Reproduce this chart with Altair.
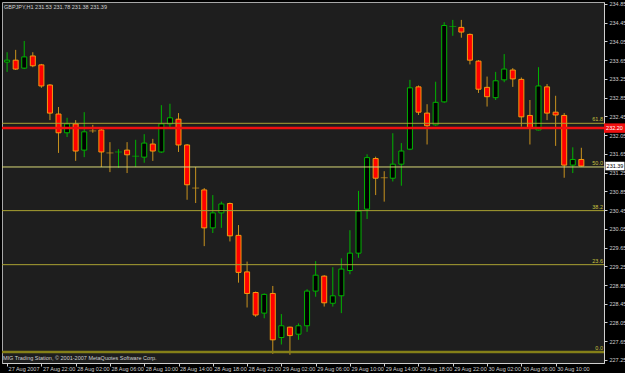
import altair as alt
import pandas as pd

symbol_title = "GBPJPY,H1 231.53 231.78 231.38 231.39"
copyright_text = "MIG Trading Station, \u00a9 2001-2007 MetaQuotes Software Corp."

opens = [
    233.61, 233.65, 233.48, 233.74, 233.55, 233.12, 232.50, 232.10, 232.29, 231.73,
    232.14, 232.16, 231.67, 231.68, 231.73, 231.59, 231.58, 231.86, 231.69, 232.29,
    232.39, 231.84, 230.92, 230.88, 230.07, 230.39, 230.59, 229.91, 229.13, 228.69,
    228.25, 228.67, 227.73, 227.95, 227.80, 227.98, 228.72, 229.04, 228.46, 228.62,
    229.16, 229.53, 230.47, 231.55, 231.14, 231.13, 231.43, 231.75, 233.08, 232.52,
    232.27, 232.76, 234.36, 234.35, 234.20, 233.63, 233.07, 232.85, 233.23, 233.44,
    233.24, 232.47, 232.16, 233.08, 232.54, 232.47, 231.41, 231.53]
highs = [
    233.82, 233.87, 234.06, 233.82, 233.57, 233.14, 232.65, 232.42, 232.37, 232.54,
    232.27, 232.18, 231.90, 231.75, 231.90, 231.95, 232.07, 231.97, 232.69, 232.72,
    232.52, 231.86, 231.37, 230.92, 230.77, 230.63, 230.61, 230.13, 229.35, 228.71,
    228.67, 228.83, 228.23, 227.96, 228.03, 228.76, 229.36, 229.06, 229.23, 229.42,
    230.02, 230.86, 231.64, 231.59, 231.28, 232.09, 231.88, 233.23, 233.11, 232.71,
    233.19, 234.46, 234.51, 234.51, 234.22, 233.65, 233.30, 233.40, 233.78, 233.48,
    233.28, 232.80, 233.50, 233.14, 232.89, 232.52, 231.79, 231.78]
lows = [
    233.40, 233.44, 233.46, 233.50, 233.06, 232.37, 231.67, 232.01, 231.50, 231.58,
    232.10, 231.37, 231.26, 231.35, 231.24, 231.37, 231.46, 231.50, 231.67, 232.20,
    231.69, 230.67, 230.60, 229.68, 229.96, 230.07, 229.78, 228.90, 228.37, 228.17,
    228.14, 227.38, 227.58, 227.36, 227.68, 227.85, 228.60, 228.39, 228.39, 228.25,
    229.08, 229.43, 230.26, 230.77, 230.63, 231.06, 230.97, 231.73, 232.48, 231.85,
    232.25, 232.74, 234.17, 234.13, 233.56, 232.95, 232.66, 232.80, 233.18, 233.08,
    232.23, 231.85, 232.15, 232.37, 231.82, 231.14, 231.24, 231.38]
closes = [
    233.65, 233.46, 233.72, 233.53, 233.10, 232.52, 232.10, 232.29, 231.71, 232.12,
    232.14, 231.69, 231.67, 231.69, 231.63, 231.60, 231.88, 231.71, 232.29, 232.42,
    231.84, 230.99, 230.92, 230.07, 230.39, 230.58, 229.90, 229.12, 228.67, 228.21,
    228.65, 227.68, 227.98, 227.77, 227.98, 228.72, 229.06, 228.47, 228.62, 229.19,
    229.53, 230.43, 231.57, 231.13, 231.14, 231.43, 231.71, 233.06, 232.54, 232.25,
    232.75, 234.39, 234.37, 234.25, 233.65, 233.03, 232.87, 233.21, 233.46, 233.25,
    232.44, 232.20, 233.10, 232.52, 232.48, 231.41, 231.53, 231.39]

tick_labels = ["27 Aug 2007", "27 Aug 22:00", "28 Aug 02:00", "28 Aug 06:00",
               "28 Aug 10:00", "28 Aug 14:00", "28 Aug 18:00", "28 Aug 22:00",
               "29 Aug 02:00", "29 Aug 06:00", "29 Aug 10:00", "29 Aug 14:00",
               "29 Aug 18:00", "29 Aug 22:00", "30 Aug 02:00", "30 Aug 06:00",
               "30 Aug 10:00"]
tick_positions = [0, 4, 8, 12, 16, 20, 24, 28, 32, 36, 40, 44, 48, 52, 56, 60, 64]
price_ticks = [227.25, 227.65, 228.05, 228.45, 228.85, 229.25, 229.65, 230.05,
               230.45, 230.85, 231.25, 231.65, 232.05, 232.45, 232.85, 233.25,
               233.65, 234.05, 234.45, 234.85]

fib_low = 227.42
fib_high = 235.32
fib_ratios = [0.0, 23.6, 38.2, 50.0, 61.8]
red_level = [232.20]
bid_level = [231.39]

# ---------------------------------------------------------------
n = len(opens)
df = pd.DataFrame({"idx": list(range(n)), "open": opens, "high": highs,
                   "low": lows, "close": closes})
df["dir"] = ["up" if c > o else "down" for o, c in zip(opens, closes)]
df["doji"] = [abs(c - o) < 0.015 for o, c in zip(opens, closes)]

fib_df = pd.DataFrame({"ratio": fib_ratios,
                       "level": [fib_low + r / 100 * (fib_high - fib_low) for r in fib_ratios],
                       "label": [f"{r:.1f}" for r in fib_ratios]})
red_df = pd.DataFrame({"price": red_level, "label": [f"{v:.2f}" for v in red_level]})
bid_df = pd.DataFrame({"price": bid_level, "label": [f"{v:.2f}" for v in bid_level]})
txt_df = pd.DataFrame({"t": [symbol_title], "c": [copyright_text]})

FONT = "Liberation Sans"
AXC = "#cfcfcf"
X_DOMAIN = [-0.011, 69.06]
Y_DOMAIN = [227.185, 234.892]

label_expr = "[" + ",".join(f"'{s}'" for s in tick_labels) + "][round(datum.value/4)]"

x_axis = alt.Axis(values=tick_positions, labelExpr=label_expr, labelAlign="left",
                  labelOffset=1, labelPadding=0, tickSize=3, labelFont=FONT,
                  labelFontSize=5.5, labelColor=AXC, tickColor=AXC, domainColor=AXC,
                  labelOverlap=False, labelFlush=False, grid=False, title=None)
y_axis = alt.Axis(values=price_ticks, format=".2f", orient="right", tickSize=3,
                  labelPadding=2, labelFont=FONT, labelFontSize=5.5, labelColor=AXC,
                  tickColor=AXC, domainColor=AXC, labelOverlap=False, labelFlush=False,
                  grid=False, title=None)


def xenc(field="idx"):
    return alt.X(f"{field}:Q", scale=alt.Scale(domain=X_DOMAIN, nice=False, zero=False),
                 axis=x_axis, title=None)


def yenc(field):
    return alt.Y(f"{field}:Q", scale=alt.Scale(domain=Y_DOMAIN, nice=False, zero=False),
                 axis=y_axis, title=None)


UP = "#00b400"
DOWN_WICK = "#c8921e"
DOWN_EDGE = "#f59a10"
wick_color = alt.Color("dir:N", scale=alt.Scale(domain=["up", "down"], range=[UP, DOWN_WICK]),
                       legend=None)

wicks = alt.Chart(df).mark_rule(strokeWidth=1, clip=True).encode(
    x=xenc(), y=yenc("low"), y2="high", color=wick_color)

bodies = alt.Chart(df).transform_filter("!datum.doji").mark_bar(
    size=5, strokeWidth=1, clip=True).encode(
    x=xenc(), y=yenc("open"), y2="close",
    fill=alt.Fill("dir:N", scale=alt.Scale(domain=["up", "down"], range=["#000000", "#ff0000"]),
                  legend=None),
    stroke=alt.Stroke("dir:N", scale=alt.Scale(domain=["up", "down"], range=[UP, DOWN_EDGE]),
                      legend=None))

dojis = alt.Chart(df).transform_filter("datum.doji").mark_tick(
    orient="horizontal", size=7, thickness=1, clip=True).encode(
    x=xenc(), y=yenc("close"), color=wick_color)

fib_lines = alt.Chart(fib_df).transform_filter(
    "datum.ratio != 0 && datum.ratio != 50").mark_rule(
    color="#aaa232", strokeWidth=1).encode(y=yenc("level"))
fib_mid = alt.Chart(fib_df).transform_filter("datum.ratio == 50").mark_rule(
    color="#d8d878", strokeWidth=1).encode(y=yenc("level"))
fib_zero = alt.Chart(fib_df).transform_filter("datum.ratio == 0").mark_rule(
    color="#858018", strokeWidth=2.5).encode(y=yenc("level"))
fib_text = alt.Chart(fib_df).mark_text(
    align="right", baseline="bottom", dy=-1, font=FONT, fontSize=5.5,
    color="#c8c040").encode(y=yenc("level"), x=alt.value(601), text="label:N")

red_line = alt.Chart(red_df).mark_rule(color="#f01010", strokeWidth=2.5).encode(y=yenc("price"))
box_shape = "M-1,-0.45H1V0.45H-1Z"
red_box = alt.Chart(red_df).mark_point(shape=box_shape, size=441, filled=True, opacity=1,
                                       color="#f01010").encode(
    y=yenc("price"), x=alt.value(612.5))
red_txt = alt.Chart(red_df).mark_text(font=FONT, fontSize=5.5, color="#ffffff").encode(
    y=yenc("price"), x=alt.value(612.5), text="label:N")
bid_box = alt.Chart(bid_df).mark_point(shape=box_shape, size=361, filled=True, opacity=1,
                                       color="#ffffff").encode(
    y=yenc("price"), x=alt.value(613))
bid_txt = alt.Chart(bid_df).mark_text(font=FONT, fontSize=5.5, color="#000000").encode(
    y=yenc("price"), x=alt.value(613), text="label:N")

title_txt = alt.Chart(txt_df).mark_text(align="left", baseline="middle", font=FONT,
                                        fontSize=5.5, color="#d0d0d0").encode(
    x=alt.value(2), y=alt.value(4.5), text="t:N")
copy_txt = alt.Chart(txt_df).mark_text(align="left", baseline="middle", font=FONT,
                                       fontSize=5.5, color="#d0d0d0").encode(
    x=alt.value(1), y=alt.value(356), text="c:N")

chart = alt.layer(
    wicks, bodies, dojis, fib_lines, fib_mid, fib_zero, red_line, fib_text,
    red_box, red_txt, bid_box, bid_txt, title_txt, copy_txt
).properties(
    width=602, height=361,
    padding={"left": 2, "top": 2, "right": 21, "bottom": 10},
    autosize=alt.AutoSizeParams(type="none"),
    background="#000000",
).configure_view(fill="#1e1e1e", stroke="#a8a8a8", strokeWidth=1)

chart.save("out.html", embed_options={"renderer": "svg", "actions": False})
